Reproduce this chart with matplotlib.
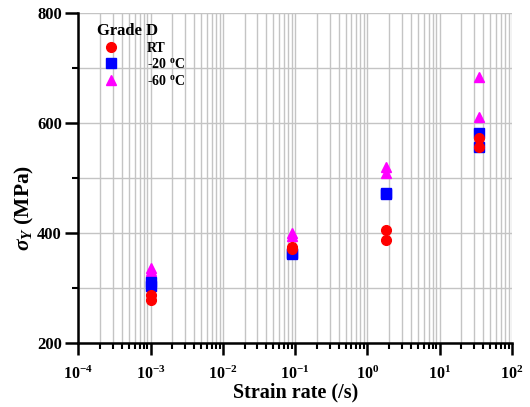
import numpy as np
import matplotlib
matplotlib.use("Agg")
import matplotlib.pyplot as plt
from matplotlib.ticker import LogLocator, MultipleLocator, FixedLocator, NullFormatter

plt.rcParams['font.family'] = 'Liberation Serif'
plt.rcParams['font.weight'] = 'bold'
plt.rcParams['mathtext.fontset'] = 'custom'
plt.rcParams['mathtext.rm'] = 'Liberation Serif:bold'
plt.rcParams['mathtext.it'] = 'Liberation Serif:italic:bold'
plt.rcParams['mathtext.bf'] = 'Liberation Serif:bold'

# strain rates (/s), two tests per rate
rate = [1e-3, 1e-3, 0.09, 0.09, 1.8, 1.8, 35, 35]
# yield stress (MPa)
rt = [286, 277, 375, 370, 406, 386, 572, 556]
m20 = [311, 304, 364, 362, 473, 470, 581, 556]
m60 = [336, 331, 400, 395, 519, 508, 683, 610]

decades = [-4, -3, -2, -1, 0, 1, 2]

fig = plt.figure(figsize=(5.3, 4.07), dpi=100)
ax = fig.add_axes([0.148, 0.158, 0.818, 0.81])

ax.plot(rate, rt, 'o', color='red', ms=7, mec='red', label='RT', zorder=5)
ax.plot(rate, m20, 's', color='blue', ms=6.5, mec='blue', label=r'-20 $^{\mathrm{o}}$C', zorder=4)
ax.plot(rate, m60, '^', color='magenta', ms=7, mec='magenta', label=r'-60 $^{\mathrm{o}}$C', zorder=3)

ax.set_xscale('log')
ax.set_xlim(1e-4, 1e2)
ax.set_ylim(200, 800)

ax.xaxis.set_major_locator(FixedLocator([10.0**e for e in decades]))
ax.set_xticklabels([r'$\mathbf{10^{%d}}$' % e for e in decades])
ax.xaxis.set_minor_locator(LogLocator(base=10, subs=np.arange(2, 10), numticks=20))
ax.xaxis.set_minor_formatter(NullFormatter())
ax.yaxis.set_major_locator(MultipleLocator(200))
ax.yaxis.set_minor_locator(MultipleLocator(100))

ax.grid(True, which='both', color='#c4c4c4', lw=1.0)
ax.set_axisbelow(True)

for s in ['top', 'right']:
    ax.spines[s].set_visible(False)
for s in ['left', 'bottom']:
    ax.spines[s].set_linewidth(1.8)

ax.tick_params(which='major', direction='out', width=1.8)
ax.tick_params(which='minor', direction='out', length=4.5, width=1.5)
ax.tick_params(axis='x', which='major', length=8.5, pad=8, labelsize=11.5)
ax.tick_params(axis='y', which='major', length=9.5, pad=2.5, labelsize=12)

ax.set_xlabel('Strain rate (/s)', fontsize=14.5, fontweight='bold', labelpad=0)
ax.set_ylabel(r'$\sigma_Y$ (MPa)', fontsize=15.5, fontweight='bold')
ax.yaxis.set_label_coords(-0.097, 0.41)

leg = ax.legend(loc='upper left', title='Grade D', frameon=False, fontsize=10,
                title_fontproperties={'weight': 'bold', 'size': 12},
                handletextpad=1.6, borderaxespad=0.3, labelspacing=0.2,
                bbox_to_anchor=(0.02, 1.0))
leg._legend_box.align = 'left'

fig.savefig('out.png', dpi=100)
